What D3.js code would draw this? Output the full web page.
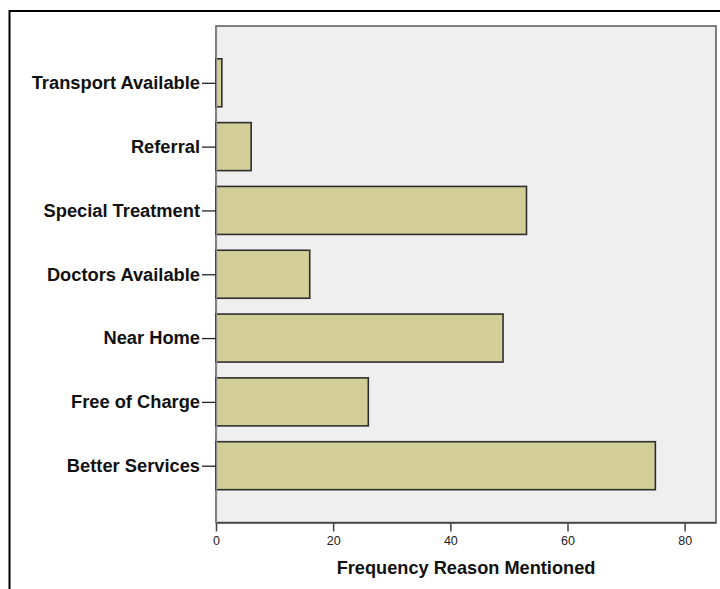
<!DOCTYPE html>
<html>
<head>
<meta charset="utf-8">
<script src="https://cdn.jsdelivr.net/npm/d3@7"></script>
<style>
  html, body { margin: 0; padding: 0; background: #fff; }
  svg { display: block; }
</style>
</head>
<body>
<svg id="chart" width="720" height="589"></svg>
<script>
const categories = ["Transport Available", "Referral", "Special Treatment", "Doctors Available", "Near Home", "Free of Charge", "Better Services"];
const frequencies = [1, 6, 53, 16, 49, 26, 75];
const xTicks = [0, 20, 40, 60, 80];
const xTitle = "Frequency Reason Mentioned";

const svg = d3.select("#chart");
const plot = { left: 216, top: 26, right: 716, bottom: 522.5 };
const FONT = "Liberation Sans, Arial, sans-serif";

// outer frame
svg.append("rect")
  .attr("x", 9.5).attr("y", 11).attr("width", 730).attr("height", 600)
  .attr("fill", "#fff").attr("stroke", "#000").attr("stroke-width", 2);

const x = d3.scaleLinear().domain([0, 85.35]).range([plot.left, plot.right]);
const y = d3.scalePoint().domain(categories).range([plot.top, plot.bottom]).padding(0.89);
const barH = y.step() * 0.752;

// plot background
svg.append("rect")
  .attr("x", plot.left).attr("y", plot.top)
  .attr("width", plot.right - plot.left).attr("height", plot.bottom - plot.top)
  .attr("fill", "#efefef").attr("stroke", "#555").attr("stroke-width", 1.5);

// bars
svg.append("g").selectAll("rect").data(categories).join("rect")
  .attr("x", x(0))
  .attr("y", d => y(d) - barH / 2)
  .attr("width", (d, i) => x(frequencies[i]) - x(0))
  .attr("height", barH)
  .attr("fill", "#d3ce97")
  .attr("stroke", "#2e2e2e")
  .attr("stroke-width", 1.6);

// x axis
const xAxis = svg.append("g")
  .attr("transform", `translate(0,${plot.bottom})`)
  .call(d3.axisBottom(x).tickValues(xTicks).tickSize(9).tickSizeOuter(0).tickPadding(5));
xAxis.select(".domain").attr("stroke", "#444").attr("stroke-width", 1.5);
xAxis.selectAll(".tick line").attr("stroke", "#444").attr("stroke-width", 1.5);
xAxis.selectAll(".tick text")
  .attr("font-family", FONT)
  .attr("font-size", 12.5).attr("fill", "#222");

// y axis
const yAxis = svg.append("g")
  .attr("transform", `translate(${plot.left},0)`)
  .call(d3.axisLeft(y).tickSize(14).tickSizeOuter(0).tickPadding(2));
yAxis.select(".domain").attr("stroke", "#888").attr("stroke-width", 1.2);
yAxis.selectAll(".tick line").attr("stroke", "#222").attr("stroke-width", 1.3);
yAxis.selectAll(".tick text")
  .attr("font-family", FONT)
  .attr("font-weight", "bold")
  .attr("font-size", 18.3).attr("fill", "#111");

// x title
svg.append("text")
  .attr("x", (plot.left + plot.right) / 2)
  .attr("y", 574)
  .attr("text-anchor", "middle")
  .attr("font-family", FONT)
  .attr("font-weight", "bold")
  .attr("font-size", 18.2)
  .attr("fill", "#111")
  .text(xTitle);
</script>
</body>
</html>
